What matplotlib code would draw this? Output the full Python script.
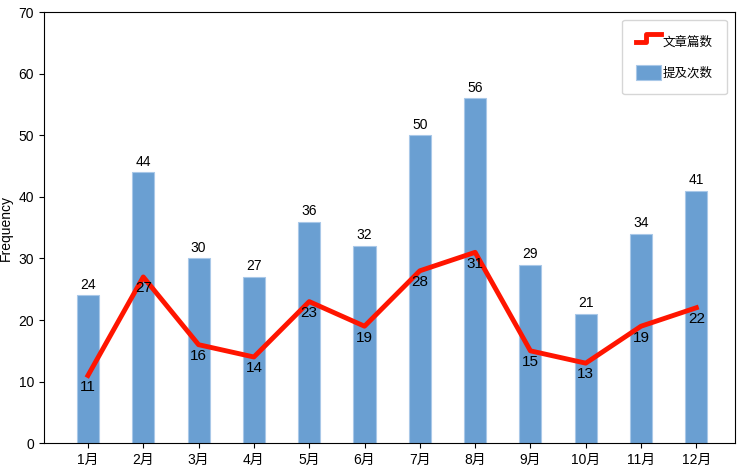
import matplotlib
matplotlib.use('Agg')
from matplotlib import pyplot as plt
from matplotlib.legend_handler import HandlerBase
from matplotlib.lines import Line2D
import numpy as np

plt.rcParams['font.family'] = ['Liberation Sans', 'Noto Sans CJK SC', 'DejaVu Sans']

months = ['1月', '2月', '3月', '4月', '5月', '6月', '7月', '8月', '9月', '10月', '11月', '12月']
mentions = [24, 44, 30, 27, 36, 32, 50, 56, 29, 21, 34, 41]
articles = [11, 27, 16, 14, 23, 19, 28, 31, 15, 13, 19, 22]


class StepHandler(HandlerBase):
    # legend handle drawn as a small step
    def create_artists(self, legend, orig_handle, xdescent, ydescent,
                       width, height, fontsize, trans):
        x0 = -xdescent
        xs = [x0, x0 + width * 0.4, x0 + width * 0.4, x0 + width]
        ys = [height * 0.2, height * 0.2, height * 0.75, height * 0.75]
        ln = Line2D(xs, ys, color=orig_handle.get_color(),
                    linewidth=orig_handle.get_linewidth(), transform=trans)
        return [ln]


fig = plt.figure(figsize=(7.41, 4.69), dpi=100)
ax = fig.add_axes([0.059, 0.055, 0.933, 0.919])

x = np.arange(len(months))
bars = ax.bar(x, mentions, width=0.4, color='#6a9fd2', edgecolor='#a9c8e8',
              linewidth=0.8, label='提及次数')
line, = ax.plot(x, articles, color='#ff1500', linewidth=3.5, label='文章篇数')

for xi, v in zip(x, mentions):
    ax.text(xi, v + 0.6, str(v), ha='center', va='bottom', fontsize=10)
for xi, v in zip(x, articles):
    ax.text(xi, v - 0.7, str(v), ha='center', va='top', fontsize=11)

ax.set_xticks(x)
ax.set_xticklabels(months, fontsize=10)
ax.tick_params(axis='y', labelsize=10)
ax.set_ylim(0, 70)
ax.set_xlim(-0.8, 11.7)
ax.set_ylabel('Frequency', fontsize=10)

ax.legend(handles=[line, bars], labels=['文章篇数', '提及次数'],
          handler_map={Line2D: StepHandler()},
          loc='upper right', bbox_to_anchor=(0.988, 0.982), borderaxespad=0,
          fontsize=9, borderpad=1.1, labelspacing=1.3, handlelength=2.0,
          handleheight=1.5, handletextpad=0.15)

fig.savefig('out.png', dpi=100)
